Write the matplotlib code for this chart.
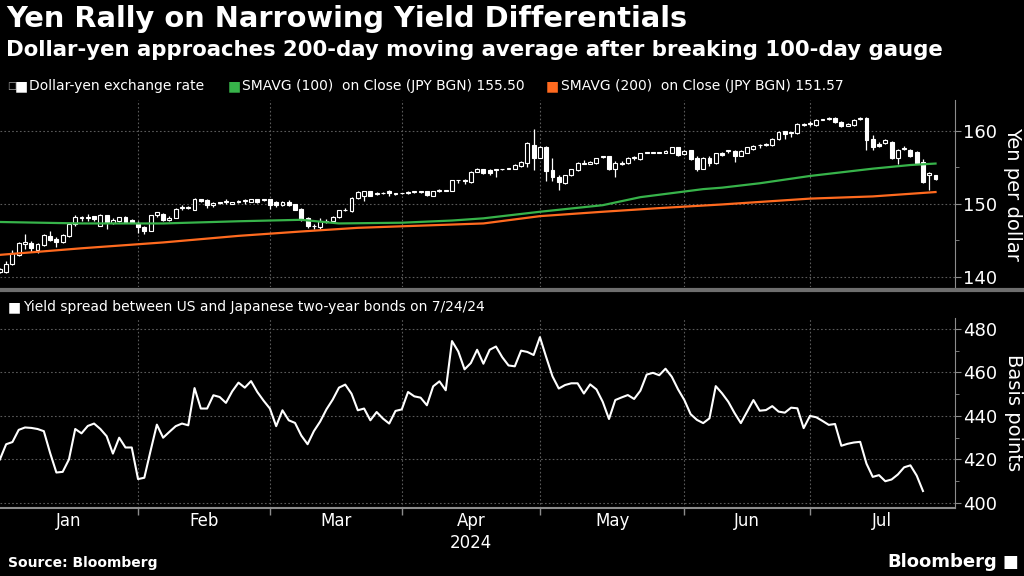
import numpy as np
import pandas as pd
import matplotlib
matplotlib.use("Agg")
import matplotlib.pyplot as plt
from matplotlib.ticker import FixedLocator, NullFormatter

# trading days of 2024, index 0 = Jan 1
days = pd.bdate_range("2024-01-01", "2024-08-01")

# dollar-yen daily candles, days 1..150
opens = [140.7, 140.6, 141.8, 143.0, 144.5, 144.6, 143.6, 144.3, 145.6, 145.2,
         144.7, 145.6, 147.2, 148.0, 148.2, 148.3, 147.0, 148.4, 147.3, 147.6,
         148.2, 147.8, 147.3, 146.8, 146.3, 148.4, 148.6, 147.8, 148.1, 149.4,
         149.4, 149.2, 150.7, 150.5, 149.8, 150.2, 150.3, 150.0, 150.2, 150.4,
         150.3, 150.6, 150.5, 150.6, 150.2, 149.8, 150.3, 149.9, 149.3, 148.0,
         146.9, 146.8, 147.5, 147.6, 148.2, 149.1, 149.0, 150.8, 151.0, 151.7,
         151.3, 151.4, 151.7, 151.3, 151.4, 151.4, 151.6, 151.6, 151.7, 151.1,
         151.7, 151.8, 151.8, 153.2, 153.2, 153.0, 154.4, 154.7, 154.6, 154.6,
         154.7, 154.8, 154.8, 155.1, 155.6, 158.0, 156.3, 157.8, 154.6, 153.7,
         152.8, 153.9, 154.6, 155.5, 155.5, 155.6, 156.4, 156.5, 154.8, 155.6,
         155.6, 156.3, 156.1, 157.0, 157.0, 157.0, 157.0, 157.0, 157.7, 156.8,
         157.3, 156.2, 154.8, 156.2, 155.6, 157.0, 157.2, 157.2, 156.6, 157.0,
         157.5, 158.0, 158.0, 158.0, 158.8, 159.9, 159.7, 159.7, 160.8, 160.9,
         160.8, 161.5, 161.6, 161.8, 161.2, 160.7, 160.8, 161.6, 161.8, 158.8,
         158.2, 158.3, 158.5, 156.2, 157.5, 157.4, 157.1, 155.7, 153.9, 153.9]
highs = [141.2, 142.1, 143.6, 144.8, 145.9, 144.9, 144.6, 145.8, 146.3, 145.5,
         145.8, 147.3, 148.4, 148.3, 148.6, 148.3, 148.6, 148.5, 148.0, 148.2,
         148.3, 147.9, 147.7, 147.0, 148.5, 148.9, 148.7, 148.3, 149.4, 149.8,
         149.7, 150.8, 150.7, 150.6, 150.2, 150.3, 150.6, 150.3, 150.5, 150.7,
         150.7, 150.7, 150.7, 150.7, 150.4, 150.4, 150.5, 150.0, 149.4, 148.2,
         147.2, 148.0, 147.9, 148.3, 149.2, 149.4, 150.9, 151.7, 151.8, 151.8,
         151.6, 151.6, 151.9, 151.4, 151.5, 151.7, 151.7, 151.8, 151.8, 151.8,
         152.0, 151.9, 153.3, 153.3, 153.4, 154.5, 154.9, 154.8, 154.7, 154.7,
         154.8, 154.9, 155.4, 155.8, 158.5, 160.2, 157.9, 157.9, 156.2, 153.9,
         154.0, 154.8, 155.7, 156.0, 155.9, 156.3, 156.6, 156.6, 155.8, 155.9,
         156.4, 156.6, 157.0, 157.1, 157.1, 157.1, 157.3, 157.8, 157.8, 157.3,
         157.4, 156.5, 156.4, 156.5, 157.0, 157.1, 157.4, 157.3, 157.3, 157.8,
         158.0, 158.2, 158.3, 159.0, 159.9, 160.0, 159.8, 161.0, 161.1, 161.3,
         161.6, 161.6, 161.9, 161.9, 161.3, 161.0, 161.6, 161.9, 161.9, 159.4,
         158.4, 158.9, 158.6, 157.5, 157.9, 157.5, 157.2, 156.1, 154.4, 154.0]
lows = [140.5, 140.5, 141.6, 142.8, 143.8, 143.4, 143.3, 144.2, 144.9, 144.1,
        144.6, 145.5, 147.0, 147.7, 147.7, 147.6, 146.9, 146.6, 147.2, 147.5,
        147.4, 147.3, 146.0, 145.9, 146.2, 148.2, 147.7, 147.6, 148.0, 149.1,
        149.3, 149.1, 150.3, 149.4, 149.6, 150.0, 149.9, 149.9, 150.1, 150.0,
        150.2, 150.1, 150.4, 149.3, 149.6, 149.7, 149.7, 149.1, 147.7, 146.7,
        146.5, 146.5, 147.3, 147.5, 148.1, 149.0, 148.9, 150.6, 150.4, 151.0,
        151.2, 151.3, 151.1, 151.2, 151.3, 151.3, 151.5, 151.5, 151.1, 151.0,
        151.6, 151.7, 151.7, 152.8, 152.7, 152.9, 154.3, 154.1, 154.0, 153.7,
        154.6, 154.7, 154.7, 155.0, 155.0, 154.6, 156.2, 153.1, 153.1, 151.9,
        152.7, 153.8, 154.5, 155.4, 155.4, 155.5, 156.3, 154.6, 153.6, 155.3,
        155.5, 156.0, 156.0, 156.9, 156.9, 156.9, 156.9, 156.9, 156.5, 156.7,
        156.0, 154.5, 154.7, 155.2, 155.5, 156.6, 156.9, 155.7, 156.5, 156.9,
        157.4, 157.6, 157.9, 157.9, 158.7, 158.8, 159.2, 159.6, 160.6, 160.6,
        160.7, 161.4, 161.4, 161.1, 160.5, 160.6, 160.7, 161.5, 157.4, 157.4,
        157.8, 158.2, 156.1, 155.5, 157.4, 156.4, 155.5, 152.8, 151.9, 153.3]
closes = [141.0, 141.8, 143.3, 144.6, 144.7, 144.0, 144.5, 145.7, 145.0, 144.7,
          145.7, 147.2, 148.2, 148.2, 148.1, 147.9, 148.4, 147.5, 147.8, 148.2,
          147.5, 147.4, 146.8, 146.2, 148.4, 148.8, 147.8, 148.1, 149.3, 149.5,
          149.6, 150.7, 150.4, 149.8, 150.1, 150.1, 150.3, 150.2, 150.4, 150.4,
          150.6, 150.2, 150.6, 149.8, 149.8, 150.3, 149.8, 149.2, 147.9, 147.0,
          146.9, 147.7, 147.7, 148.2, 149.1, 149.2, 150.8, 151.6, 151.7, 151.1,
          151.4, 151.5, 151.5, 151.3, 151.4, 151.6, 151.6, 151.7, 151.2, 151.7,
          151.9, 151.8, 153.2, 153.2, 153.1, 154.4, 154.8, 154.2, 154.2, 154.6,
          154.7, 154.8, 155.3, 155.7, 158.3, 156.3, 157.8, 154.5, 153.7, 153.0,
          153.9, 154.7, 155.6, 155.6, 155.7, 156.2, 156.5, 154.7, 155.6, 155.4,
          156.3, 156.3, 156.9, 157.0, 157.0, 157.0, 157.2, 157.7, 156.7, 157.2,
          156.1, 154.7, 156.3, 155.6, 156.9, 156.7, 157.2, 156.6, 157.2, 157.7,
          157.9, 158.0, 158.2, 158.9, 159.8, 159.5, 159.7, 160.9, 160.8, 161.1,
          161.5, 161.5, 161.7, 161.2, 160.6, 160.9, 161.5, 161.8, 158.7, 157.8,
          157.9, 158.7, 156.2, 157.4, 157.6, 156.5, 155.6, 153.0, 154.2, 153.4]

# moving averages (day index, value)
ma100_days = [1, 14, 27, 39, 44, 49, 55, 65, 73, 78, 87, 97, 103, 113, 116, 122, 130, 140, 146, 150]
ma100_vals = [147.5, 147.3, 147.3, 147.6, 147.7, 147.8, 147.3, 147.4, 147.7, 148.0,
              148.9, 149.8, 150.9, 152.0, 152.2, 152.8, 153.8, 154.8, 155.3, 155.5]
ma200_days = [1, 14, 27, 39, 49, 58, 68, 78, 87, 97, 106, 116, 130, 140, 150]
ma200_vals = [143.0, 143.9, 144.7, 145.6, 146.2, 146.7, 147.0, 147.3, 148.3, 148.9,
              149.4, 149.9, 150.7, 151.0, 151.6]

# US-Japan 2y yield spread (bp), days 1..148
spread = [420, 427, 428, 433.6, 434.7, 434.5, 434, 433, 423, 414,
          414.3, 420, 434, 432, 435.4, 436.5, 434, 430.7, 422.7, 430,
          425.5, 425.5, 411, 411.6, 424, 436, 430, 432.7, 435.3, 436.5,
          435.7, 452.8, 443.4, 443.4, 449.5, 448.7, 446, 451.3, 455.3, 453,
          456, 451, 447, 443.4, 435.3, 442.6, 438, 436.8, 431, 427,
          433, 437.4, 443, 447.5, 453, 454.4, 450.2, 442.6, 443.4, 438,
          441.8, 438.8, 436.5, 442.3, 443, 451, 449, 448.4, 444.9, 453.6,
          455.9, 451.8, 474.4, 469.6, 461.4, 464.3, 470.4, 464, 470.4, 471.9,
          467, 463.2, 462.8, 470, 469.4, 468, 476.2, 467, 458.2, 452.6,
          454.2, 455, 455, 450.3, 454.5, 452.2, 446.5, 438.6, 447.3, 448.5,
          449.6, 447.8, 451.6, 459, 459.8, 458.7, 461.7, 458, 452.2, 447.3,
          440.8, 438.2, 436.7, 438.9, 453.7, 450.4, 446.5, 441.3, 436.7, 442,
          447.3, 442.4, 442.7, 444.5, 442, 441.5, 443.8, 443.5, 434.4, 440,
          439.4, 437.7, 435.9, 436.3, 426.3, 427.2, 427.8, 428.1, 418.1, 412,
          412.8, 410, 410.8, 413.1, 416.4, 417.3, 412.6, 405.5]

month_names = ["Jan", "Feb", "Mar", "Apr", "May", "Jun", "Jul"]

GREEN = "#37b34a"
ORANGE = "#ff6a1f"
GRID = "#5a5a5a"
SPINE = "#8c8c8c"

# month boundaries as trading-day indices
month_start = [int(np.where(days.month == m)[0][0]) for m in range(2, 9)]
month_mid = [(a + b) / 2 for a, b in zip([1] + month_start[:-1], month_start)]

fig = plt.figure(figsize=(10.24, 5.76), dpi=100, facecolor="black")
W, H = 1024, 576


def axes_px(x0, y0, x1, y1):
    return fig.add_axes([x0 / W, 1 - y1 / H, (x1 - x0) / W, (y1 - y0) / H])


ax1 = axes_px(0, 100, 955, 287)
ax2 = axes_px(0, 318, 955, 508)

for ax in (ax1, ax2):
    ax.set_facecolor("black")
    ax.set_xlim(1.02, 153.1)
    for s in ("top", "left"):
        ax.spines[s].set_visible(False)
    ax.spines["right"].set_color(SPINE)
    ax.spines["bottom"].set_color(SPINE)
    ax.yaxis.tick_right()
    ax.yaxis.set_label_position("right")
    ax.tick_params(axis="y", colors=SPINE, labelcolor="white", labelsize=13,
                   length=4, pad=2)
    ax.tick_params(axis="y", which="minor", colors=SPINE, length=3)
    ax.xaxis.set_major_locator(FixedLocator(month_start[:-1]))
    ax.grid(True, which="major", color=GRID, linestyle=(0, (1.5, 2)), linewidth=0.8)

# top panel: candles
x = np.arange(1, len(opens) + 1)
o = np.array(opens)
c = np.array(closes)
ax1.vlines(x, lows, highs, color="white", linewidth=0.9, zorder=2)
body_lo = np.minimum(o, c)
body_h = np.maximum(np.abs(c - o), 0.1)
face = ["white" if cc < oo else "black" for oo, cc in zip(o, c)]
ax1.bar(x, body_h, bottom=body_lo, width=0.62, color=face, edgecolor="white",
        linewidth=0.8, zorder=3)
ax1.plot(ma100_days, ma100_vals, color=GREEN, linewidth=1.6, zorder=4)
ax1.plot(ma200_days, ma200_vals, color=ORANGE, linewidth=1.6, zorder=4)
ax1.set_ylim(138.6, 164.2)
ax1.yaxis.set_major_locator(FixedLocator([140, 150, 160]))
ax1.yaxis.set_minor_locator(FixedLocator([145, 155]))
ax1.spines["bottom"].set_visible(False)
ax1.tick_params(axis="x", length=0, labelbottom=False)
ax1.set_ylabel("Yen per dollar", color="white", fontsize=14, rotation=270,
               labelpad=18)

# bottom panel: yield spread
ax2.plot(np.arange(1, len(spread) + 1), spread, color="white", linewidth=1.5)
ax2.set_ylim(397.7, 485)
ax2.yaxis.set_major_locator(FixedLocator([400, 420, 440, 460, 480]))
ax2.yaxis.set_minor_locator(FixedLocator([410, 430, 450, 470]))
ax2.set_ylabel("Basis points", color="white", fontsize=14, rotation=270,
               labelpad=18)
ax2.xaxis.set_minor_locator(FixedLocator(month_mid))
ax2.xaxis.set_minor_formatter(plt.FixedFormatter(month_names))
ax2.xaxis.set_major_formatter(NullFormatter())
ax2.tick_params(axis="x", which="major", colors=SPINE, length=5, width=1)
ax2.tick_params(axis="x", which="minor", length=0, labelcolor="white",
                labelsize=12, pad=3)
ax2.spines["bottom"].set_linewidth(1.5)
ax2.text(month_mid[3], -0.135, "2024", transform=ax2.get_xaxis_transform(),
         color="white", fontsize=12, ha="center", va="top")

# separator between panels
fig.add_artist(plt.Line2D([0, 1], [1 - 290 / H, 1 - 290 / H], color="#6e6e6e",
                          linewidth=3, transform=fig.transFigure))

# titles
fig.text(6 / W, 1 - 19 / H, "Yen Rally on Narrowing Yield Differentials",
         color="white", fontsize=20.8, fontweight="bold", va="center")
fig.text(6 / W, 1 - 50 / H,
         "Dollar-yen approaches 200-day moving average after breaking 100-day gauge",
         color="white", fontsize=15.3, fontweight="bold", va="center")

# legends
ly = 1 - 86 / H
fig.text(7 / W, ly, "\u25a1", color="#aaaaaa", fontsize=7, va="center")
fig.text(15 / W, ly, "\u25a0", color="white", fontsize=10, va="center")
fig.text(29 / W, ly, "Dollar-yen exchange rate", color="white", fontsize=10, va="center")
fig.text(228 / W, ly, "\u25a0", color=GREEN, fontsize=10, va="center")
fig.text(242 / W, ly, "SMAVG (100)  on Close (JPY BGN) 155.50", color="white",
         fontsize=10, va="center")
fig.text(546 / W, ly, "\u25a0", color=ORANGE, fontsize=10, va="center")
fig.text(561 / W, ly, "SMAVG (200)  on Close (JPY BGN) 151.57", color="white",
         fontsize=10, va="center")

ly2 = 1 - 307 / H
fig.text(8 / W, ly2, "\u25a0", color="white", fontsize=10, va="center")
fig.text(23 / W, ly2, "Yield spread between US and Japanese two-year bonds on 7/24/24",
         color="white", fontsize=10, va="center")

# footer
fig.text(8 / W, 1 - 563 / H, "Source: Bloomberg", color="white", fontsize=10,
         fontweight="bold", va="center")
fig.text(997 / W, 1 - 562 / H, "Bloomberg", color="white", fontsize=13,
         fontweight="bold", va="center", ha="right")
fig.text(1003 / W, 1 - 562 / H, "\u25a0", color="white", fontsize=12, va="center")

fig.savefig("out.png", dpi=100, facecolor="black")
